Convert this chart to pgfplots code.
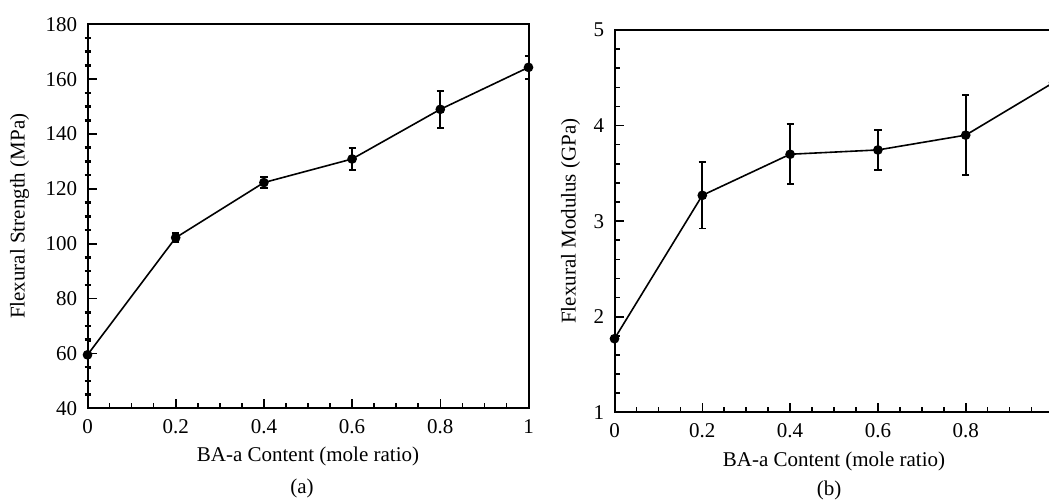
\documentclass[border=0pt]{standalone}
\usepackage{pgfplots}
\pgfplotsset{compat=1.18}
\usepackage{fontspec}
\setmainfont{Liberation Serif}
\begin{document}
\fontsize{10.5}{12.6}\selectfont
\begin{tikzpicture}
\path[use as bounding box] (0,0) rectangle (524.5pt,249.5pt);
\clip (0,0) rectangle (524.5pt,249.5pt);
\pgfplotsset{
  myaxis/.style={
    scale only axis,
    axis line style={line width=1pt, black},
    tick style={black, line width=0.8pt},
    tick align=inside,
    major tick length=4.5pt, minor tick length=2.8pt,
    xtick pos=left, ytick pos=left,
    /pgf/number format/assume math mode=true,
    xmin=0, xmax=1,
    xtick={0,0.2,0.4,0.6,0.8,1},
    minor x tick num=3,
    xticklabel style={yshift=-2pt},
    yticklabel style={xshift=-1.5pt},
    xlabel={BA-a Content (mole ratio)},
  },
  myplot/.style={
    black, line width=0.8pt, mark=*, mark size=2pt,
    mark options={solid, fill=black},
    error bars/.cd, y dir=both, y explicit,
    error bar style={line width=0.9pt, black},
    error mark options={rotate=90, mark size=1.8pt, line width=0.9pt, black},
  },
}
\begin{axis}[myaxis,
  at={(43.75pt,45.35pt)}, anchor=south west,
  width=220.5pt, height=192pt,
  ymin=40, ymax=180,
  xticklabels={0,0.2,0.4,0.6,0.8,1},
  ytick={40,60,80,100,120,140,160,180},
  minor y tick num=0,
  extra y ticks={45,50,55,65,70,75,85,90,95,105,110,115,125,130,135,145,150,155,165,170,175},
  extra y tick labels={},
  extra tick style={major tick length=3pt,
    every major tick/.append style={line width=1.3pt, xshift=-1.5pt}},
  ylabel={Flexural Strength (MPa)},
  xlabel style={at={(axis description cs:0.5,-0.126)}, anchor=center},
  ylabel style={at={(axis description cs:-0.154,0.5)}, anchor=center, rotate=0},
]
\addplot[myplot] coordinates {
  (0,59.5) +- (0,5.0)
  (0.2,102.2) +- (0,1.6)
  (0.4,122.3) +- (0,2.1)
  (0.6,130.9) +- (0,4.1)
  (0.8,149.0) +- (0,6.8)
  (1.0,164.3) +- (0,4.1)
};
\end{axis}
\begin{axis}[myaxis,
  at={(307.25pt,43.35pt)}, anchor=south west,
  width=219.5pt, height=191.15pt,
  ymin=1, ymax=5,
  xticklabels={0,0.2,0.4,0.6,0.8,{}},
  ytick={1,2,3,4,5},
  minor y tick num=4,
  ylabel={Flexural Modulus (GPa)},
  xlabel style={at={(axis description cs:0.5,-0.129)}, anchor=center},
  ylabel style={at={(axis description cs:-0.0998,0.5)}, anchor=center, rotate=0},
]
\addplot[myplot] coordinates {
  (0,1.77) +- (0,0.03)
  (0.2,3.27) +- (0,0.347)
  (0.4,3.70) +- (0,0.314)
  (0.6,3.745) +- (0,0.21)
  (0.8,3.90) +- (0,0.42)
  (1.0,4.45) +- (0,0.2)
};
\end{axis}
\node at (151pt,5.5pt) {(a)};
\node at (414.5pt,4.5pt) {(b)};
\end{tikzpicture}
\end{document}
